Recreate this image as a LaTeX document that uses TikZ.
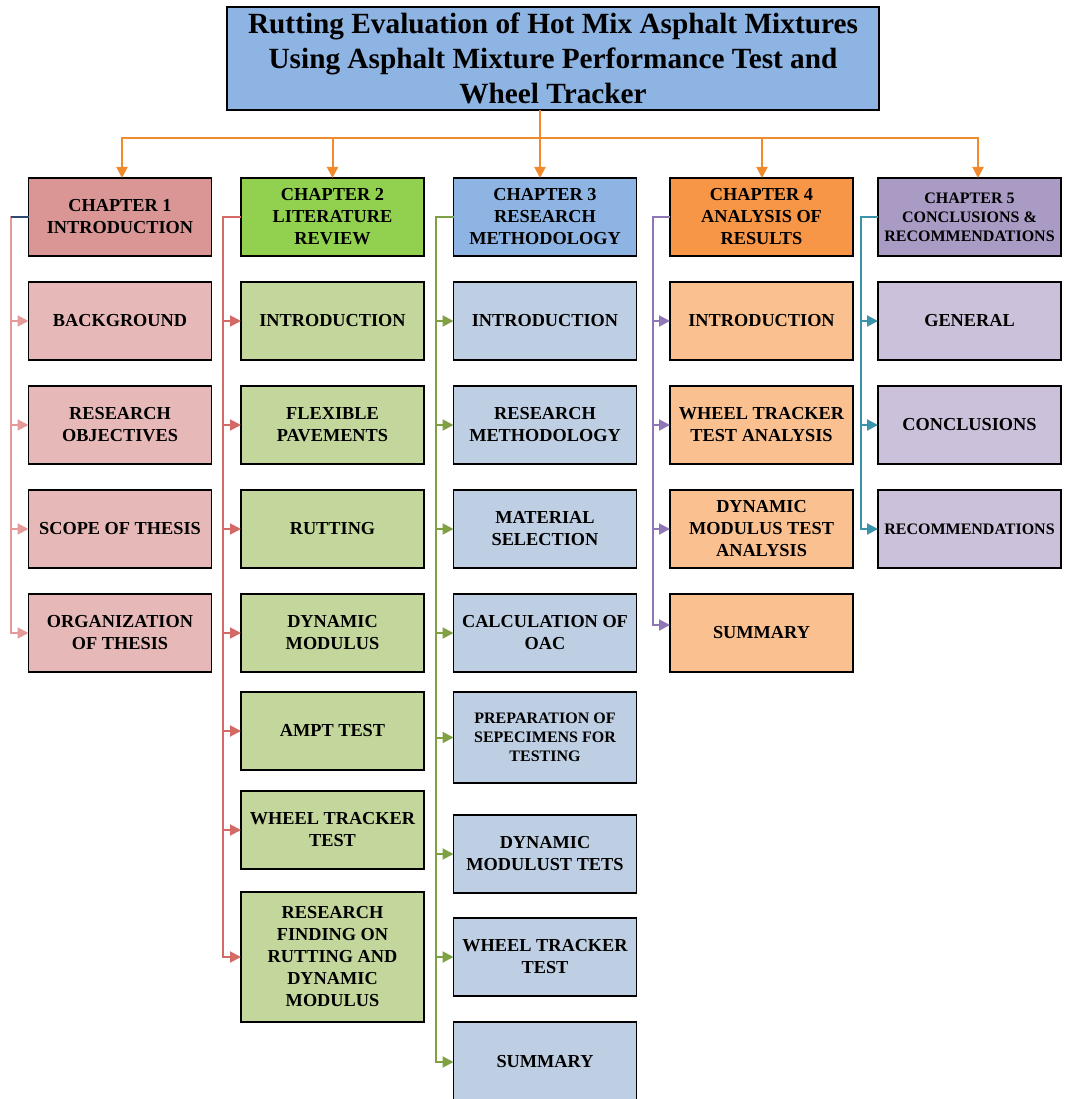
\documentclass[tikz,border=0pt]{standalone}
\usepackage{fontspec}
\setmainfont{Liberation Serif}
\usetikzlibrary{arrows.meta,positioning}

\definecolor{titlefill}{HTML}{8EB4E3}
\definecolor{busorange}{HTML}{F08A2C}
\definecolor{hdone}{HTML}{D99694}
\definecolor{subone}{HTML}{E6B9B8}
\definecolor{lineone}{HTML}{E39A98}
\definecolor{hdtwo}{HTML}{92D050}
\definecolor{subtwo}{HTML}{C3D69B}
\definecolor{linetwo}{HTML}{D46A66}
\definecolor{hdthree}{HTML}{8EB4E3}
\definecolor{subthree}{HTML}{BFCFE3}
\definecolor{linethree}{HTML}{7FA144}
\definecolor{hdfour}{HTML}{F79646}
\definecolor{subfour}{HTML}{FAC090}
\definecolor{linefour}{HTML}{8F77B5}
\definecolor{hdfive}{HTML}{A99BC4}
\definecolor{subfive}{HTML}{CCC1DA}
\definecolor{linefive}{HTML}{3A93A8}
\definecolor{stubnavy}{HTML}{2E4C73}

\begin{document}
\begin{tikzpicture}[
    x=1pt, y=-1pt,
    node distance=26pt,
    box/.style={draw, line width=1.5pt, outer sep=0pt, align=center, minimum width=183pt, minimum height=78pt, inner sep=2pt, font=\fontsize{18.3}{22}\selectfont\bfseries},
    small/.style={font=\fontsize{16}{19}\selectfont\bfseries},
    bus/.style={busorange, line width=2pt},
    busarrow/.style={bus, -{Triangle[length=11pt, width=11pt]}},
    link/.style={line width=2pt, -{Triangle[length=11pt, width=11pt]}}
]
\useasboundingbox (0,0) rectangle (1065,1099);

% title
\node[box, fill=titlefill, minimum width=652pt, minimum height=103pt, font=\fontsize{29.3}{35}\selectfont\bfseries] (title) at (553,58.5)
  {Rutting Evaluation of Hot Mix Asphalt Mixtures\\Using Asphalt Mixture Performance Test and\\Wheel Tracker};

% chapter heads
\node[box, fill=hdone] (ch1) at (120,217) {CHAPTER 1\\INTRODUCTION};
\node[box, fill=hdtwo] (ch2) at (332.5,217) {CHAPTER 2\\LITERATURE\\REVIEW};
\node[box, fill=hdthree] (ch3) at (545,217) {CHAPTER 3\\RESEARCH\\METHODOLOGY};
\node[box, fill=hdfour] (ch4) at (761.5,217) {CHAPTER 4\\ANALYSIS OF\\RESULTS};
\node[box, fill=hdfive, small] (ch5) at (969.5,217) {CHAPTER 5\\CONCLUSIONS \&\\RECOMMENDATIONS};

% chapter 1
\node[box, fill=subone, below=of ch1] (bg) {BACKGROUND};
\node[box, fill=subone, below=of bg] (obj) {RESEARCH\\OBJECTIVES};
\node[box, fill=subone, below=of obj] (scope) {SCOPE OF THESIS};
\node[box, fill=subone, below=of scope] (org) {ORGANIZATION\\OF THESIS};

% chapter 2
\node[box, fill=subtwo, below=of ch2] (lintro) {INTRODUCTION};
\node[box, fill=subtwo, below=of lintro] (flex) {FLEXIBLE\\PAVEMENTS};
\node[box, fill=subtwo, below=of flex] (rut) {RUTTING};
\node[box, fill=subtwo, below=of rut] (dynmod) {DYNAMIC\\MODULUS};
\node[box, fill=subtwo, below=20pt of dynmod] (ampt) {AMPT TEST};
\node[box, fill=subtwo, below=21pt of ampt] (wtt) {WHEEL TRACKER\\TEST};
\node[box, fill=subtwo, below=23pt of wtt, minimum height=130pt] (find) {RESEARCH\\FINDING ON\\RUTTING AND\\DYNAMIC\\MODULUS};

% chapter 3
\node[box, fill=subthree, below=of ch3] (mintro) {INTRODUCTION};
\node[box, fill=subthree, below=of mintro] (meth) {RESEARCH\\METHODOLOGY};
\node[box, fill=subthree, below=of meth] (mat) {MATERIAL\\SELECTION};
\node[box, fill=subthree, below=of mat] (oac) {CALCULATION OF\\OAC};
\node[box, fill=subthree, below=20pt of oac, minimum height=91pt, small] (prep) {PREPARATION OF\\SEPECIMENS FOR\\TESTING};
\node[box, fill=subthree, below=32pt of prep] (dmt) {DYNAMIC\\MODULUST TETS};
\node[box, fill=subthree, below=25pt of dmt] (mwtt) {WHEEL TRACKER\\TEST};
\node[box, fill=subthree, below=of mwtt, minimum height=80pt] (msum) {SUMMARY};

% chapter 4
\node[box, fill=subfour, below=of ch4] (aintro) {INTRODUCTION};
\node[box, fill=subfour, below=of aintro] (awtt) {WHEEL TRACKER\\TEST ANALYSIS};
\node[box, fill=subfour, below=of awtt] (adm) {DYNAMIC\\MODULUS TEST\\ANALYSIS};
\node[box, fill=subfour, below=of adm] (asum) {SUMMARY};

% chapter 5
\node[box, fill=subfive, below=of ch5] (gen) {GENERAL};
\node[box, fill=subfive, below=of gen] (conc) {CONCLUSIONS};
\node[box, fill=subfive, below=of conc, small] (rec) {RECOMMENDATIONS};

% title to chapters
\coordinate (drop) at ([xshift=-13pt]title.south);
\foreach \c/\dx in {ch1/2,ch2/0,ch3/-5,ch4/0.5,ch5/8.5}
  \draw[busarrow] (drop) -- ++(0,28) -| ([xshift=\dx pt]\c.north);

% chapter to sections
\foreach \s in {bg,obj,scope,org}
  \draw[link, lineone] (ch1.west) -- ++(-18,0) |- (\s.west);
\draw[stubnavy, line width=2pt] (ch1.west) -- ++(-18,0);
\foreach \s in {lintro,flex,rut,dynmod,ampt,wtt,find}
  \draw[link, linetwo] (ch2.west) -- ++(-18,0) |- (\s.west);
\foreach \s in {mintro,meth,mat,oac,prep,dmt,mwtt,msum}
  \draw[link, linethree] (ch3.west) -- ++(-18,0) |- (\s.west);
\foreach \s in {aintro,awtt,adm}
  \draw[link, linefour] (ch4.west) -- ++(-17,0) |- (\s.west);
\draw[link, linefour] (ch4.west) -- ++(-17,0) |- ([yshift=8pt]asum.west);
\foreach \s in {gen,conc,rec}
  \draw[link, linefive] (ch5.west) -- ++(-17,0) |- (\s.west);
\end{tikzpicture}
\end{document}
